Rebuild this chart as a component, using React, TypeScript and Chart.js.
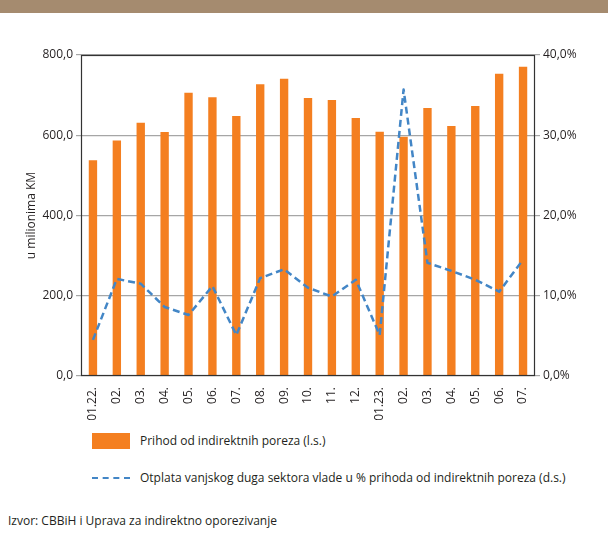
import React, { useEffect, useRef } from "react";
import { Chart, registerables } from "chart.js";

Chart.register(...registerables);

const categories = ["01.22.", "02.", "03.", "04.", "05.", "06.", "07.", "08.", "09.", "10.", "11.", "12.", "01.23.", "02.", "03.", "04.", "05.", "06.", "07."];
const revenue = [538, 587, 631, 608, 706, 695, 648, 727, 741, 693, 688, 643, 609, 596, 668, 623, 673, 753, 771];
const repaymentPct = [4.5, 12.1, 11.5, 8.6, 7.6, 11.2, 5.1, 12.2, 13.3, 11.0, 9.9, 12.0, 5.1, 35.7, 14.1, 13.1, 12.0, 10.5, 14.5];
const leftTicks = [0, 200, 400, 600, 800];
const rightTicks = [0, 10, 20, 30, 40];
const revenueLabel = "Prihod od indirektnih poreza (l.s.)";
const repaymentLabel = "Otplata vanjskog duga sektora vlade u % prihoda od indirektnih poreza (d.s.)";
const yTitle = "u milionima KM";
const sourceText = "Izvor: CBBiH i Uprava za indirektno oporezivanje";

const FONT = "'Open Sans', sans-serif";
const TEXT = "#231F20";
const ORANGE = "#F47F20";
const BLUE = "#4386C6";
const GRID = "#A6A6A6";

const fmt = (v: number) => v.toFixed(1).replace(".", ",");

export default function App() {
  const ref = useRef<HTMLCanvasElement | null>(null);

  useEffect(() => {
    if (!ref.current) return;
    const frame = {
      id: "frame",
      afterDraw(chart: any) {
        const { ctx, chartArea } = chart;
        ctx.save();
        ctx.strokeStyle = "#333333";
        ctx.lineWidth = 1.2;
        ctx.strokeRect(chartArea.left + 0.5, chartArea.top + 0.5, chartArea.right - chartArea.left - 1, chartArea.bottom - chartArea.top - 1);
        ctx.restore();
      },
    };
    const chart = new Chart(ref.current, {
      data: {
        labels: categories,
        datasets: [
          {
            type: "line",
            label: repaymentLabel,
            data: repaymentPct,
            yAxisID: "y1",
            borderColor: BLUE,
            borderWidth: 2.5,
            borderDash: [7, 4],
            borderJoinStyle: "round",
            pointRadius: 0,
            tension: 0,
            order: 0,
          },
          {
            type: "bar",
            label: revenueLabel,
            data: revenue,
            yAxisID: "y",
            backgroundColor: ORANGE,
            barPercentage: 0.35,
            categoryPercentage: 1,
            order: 1,
          },
        ],
      } as any,
      options: {
        animation: false,
        responsive: false,
        layout: { padding: { top: 55, left: 24, right: 0, bottom: 0 } },
        plugins: { legend: { display: false }, tooltip: { enabled: false } },
        scales: {
          x: {
            grid: { display: false },
            border: { display: false },
            ticks: {
              minRotation: 90,
              maxRotation: 90,
              autoSkip: false,
              color: TEXT,
              padding: 3,
              font: { family: FONT, size: 12 },
            },
            afterFit(s: any) { s.height = 44; },
          },
          y: {
            position: "left",
            min: 0,
            max: 800,
            afterBuildTicks(s: any) { s.ticks = leftTicks.map((v) => ({ value: v })); },
            ticks: { color: TEXT, padding: 3, font: { family: FONT, size: 12 }, callback: (v: any) => fmt(Number(v)) },
            grid: { color: GRID, tickColor: GRID, tickLength: 5, lineWidth: 1.2 },
            border: { display: false },
            title: { display: true, text: yTitle, color: TEXT, font: { family: FONT, size: 12 }, padding: 0 },
            afterFit(s: any) { s.width = 57; },
          },
          y1: {
            position: "right",
            min: 0,
            max: 40,
            afterBuildTicks(s: any) { s.ticks = rightTicks.map((v) => ({ value: v })); },
            ticks: { color: TEXT, padding: 3, font: { family: FONT, size: 12 }, callback: (v: any) => fmt(Number(v)) + "%" },
            grid: { drawOnChartArea: false, tickColor: GRID, tickLength: 5, lineWidth: 1.2 },
            border: { display: false },
            afterFit(s: any) { s.width = 73; },
          },
        },
      } as any,
      plugins: [frame],
    });
    return () => chart.destroy();
  }, []);

  return (
    <div style={{ position: "absolute", left: 0, top: 0, width: 608, height: 535, background: "#fff", fontFamily: FONT, color: TEXT }}>
      <canvas ref={ref} width={608} height={420} style={{ position: "absolute", left: 0, top: 0 }} />
      <div style={{ position: "absolute", left: 0, top: 0, width: 608, height: 13, background: "#A58B6F" }} />
      <div style={{ position: "absolute", left: 92, top: 433, width: 38, height: 16, background: ORANGE }} />
      <div style={{ position: "absolute", left: 140, top: 432, fontSize: 12, lineHeight: "18px", whiteSpace: "nowrap" }}>{revenueLabel}</div>
      <div style={{ position: "absolute", left: 92, top: 477, width: 38, height: 0, borderTop: `2.5px dashed ${BLUE}` }} />
      <div style={{ position: "absolute", left: 140, top: 469, fontSize: 12, lineHeight: "18px", whiteSpace: "nowrap" }}>{repaymentLabel}</div>
      <div style={{ position: "absolute", left: 8, top: 512, fontSize: 12, lineHeight: "18px", whiteSpace: "nowrap" }}>{sourceText}</div>
    </div>
  );
}
